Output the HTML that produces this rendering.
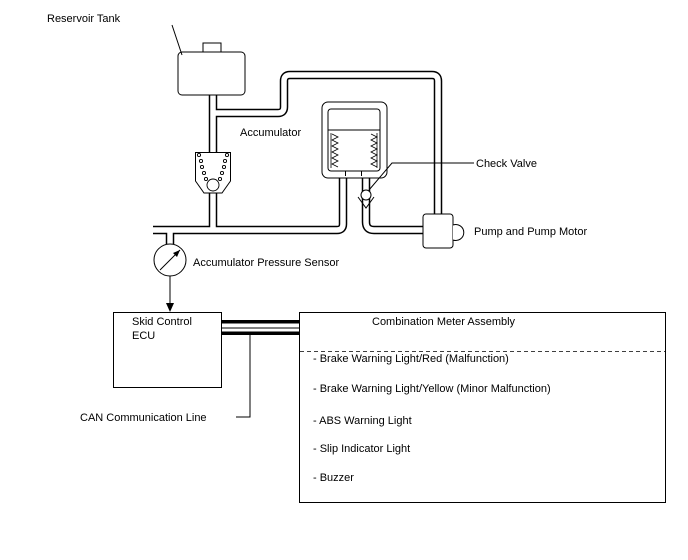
<!DOCTYPE html>
<html><head><style>body{margin:0;background:#fff}svg{display:block}text{font-family:"Liberation Sans",sans-serif;font-size:11px;fill:#000}</style></head>
<body>
<svg width="688" height="560" viewBox="0 0 688 560" xmlns="http://www.w3.org/2000/svg">
<g fill="none" stroke-linejoin="round">
<g stroke="#000" stroke-width="8.5">
<path d="M213 95 V230"/>
<path d="M213 113 H278 Q284 113 284 107 V81 Q284 75 290 75 H432 Q438 75 438 81 V216"/>
<path d="M153 230 H337 Q343 230 343 224 V172"/>
<path d="M170 230 V244"/>
<path d="M366 172 V222 Q366 230 374 230 H424"/>
</g>
<g stroke="#fff" stroke-width="5.5">
<path d="M213 95 V230"/>
<path d="M213 113 H278 Q284 113 284 107 V81 Q284 75 290 75 H432 Q438 75 438 81 V217"/>
<path d="M150 230 H337 Q343 230 343 224 V170"/>
<path d="M170 229 V244"/>
<path d="M366 170 V222 Q366 230 374 230 H425"/>
</g>
</g>
<rect x="203" y="43" width="18" height="10" fill="#fff" stroke="#000"/>
<rect x="178" y="52" width="67" height="43" rx="4" fill="#fff" stroke="#000"/>
<path d="M195.5 152.5 H230.5 V181 L222 193 H204 L195.5 181 Z" fill="#fff" stroke="#000"/>
<g fill="#fff" stroke="#000" stroke-width="0.9">
<circle cx="213" cy="185" r="6"/>
<circle cx="199" cy="155" r="1.6"/><circle cx="201" cy="161" r="1.6"/><circle cx="202" cy="167" r="1.6"/><circle cx="204" cy="173" r="1.6"/><circle cx="206" cy="179" r="1.6"/>
<circle cx="227" cy="155" r="1.6"/><circle cx="225" cy="161" r="1.6"/><circle cx="224" cy="167" r="1.6"/><circle cx="222" cy="173" r="1.6"/><circle cx="220" cy="179" r="1.6"/>
</g>
<rect x="322" y="102" width="65" height="76" rx="6" fill="#fff" stroke="#000"/>
<rect x="328" y="109" width="52" height="62" rx="3" fill="#fff" stroke="#000"/>
<line x1="328" y1="130" x2="380" y2="130" stroke="#000"/>
<rect x="345.5" y="170" width="16" height="4" fill="#fff" stroke="none"/>
<path d="M345.5 171 V176 M361.5 171 V176 M345.5 171 H361.5" stroke="#000" fill="none"/>
<path d="M332 134 l6 3 -6 3 6 3 -6 3 6 3 -6 3 6 3 -6 3 6 3 -6 3 6 3 M371 134 l6 3 -6 3 6 3 -6 3 6 3 -6 3 6 3 -6 3 6 3 -6 3 6 3" stroke="#000" stroke-width="0.8" fill="none"/>
<line x1="331" y1="133" x2="331" y2="168" stroke="#000" stroke-width="0.8"/>
<line x1="377" y1="133" x2="377" y2="168" stroke="#000" stroke-width="0.8"/>
<circle cx="366" cy="195" r="5" fill="#fff" stroke="#000"/>
<path d="M358 197 L366 208 L374 197" fill="none" stroke="#000"/>
<path d="M474 163 H392 L369 190" fill="none" stroke="#000"/>
<rect x="423" y="214" width="30" height="34" rx="3" fill="#fff" stroke="#000"/>
<path d="M453 225 A8 8 0 1 1 453 240" fill="#fff" stroke="#000"/>
<circle cx="170" cy="260" r="16" fill="#fff" stroke="#000"/>
<path d="M160 270 L180 250" stroke="#000"/><path d="M180 250 L173 253 L177 257 Z" fill="#000"/>
<line x1="170" y1="276" x2="170" y2="305" stroke="#000"/>
<path d="M166 303 L174 303 L170 312 Z" fill="#000"/>
<path d="M172 25 L182 55" stroke="#000"/>
<rect x="113.5" y="312.5" width="108" height="75" fill="#fff" stroke="#000"/>
<rect x="299.5" y="312.5" width="366" height="190" fill="#fff" stroke="#000"/>
<line x1="300" y1="351.5" x2="665" y2="351.5" stroke="#000" stroke-dasharray="4,3" stroke-width="0.8"/>
<rect x="222" y="320" width="77" height="3.5" fill="#000"/>
<rect x="222" y="327.5" width="77" height="1" fill="#000"/>
<rect x="222" y="331.5" width="77" height="3.5" fill="#000"/>
<path d="M250 334 V417 H236" fill="none" stroke="#000"/>
<text x="47" y="22">Reservoir Tank</text>
<text x="240" y="136">Accumulator</text>
<text x="476" y="167">Check Valve</text>
<text x="474" y="235">Pump and Pump Motor</text>
<text x="193" y="266">Accumulator Pressure Sensor</text>
<text x="132" y="325">Skid Control</text>
<text x="132" y="339">ECU</text>
<text x="80" y="421">CAN Communication Line</text>
<text x="372" y="325">Combination Meter Assembly</text>
<text x="313" y="362">- Brake Warning Light/Red (Malfunction)</text>
<text x="313" y="392">- Brake Warning Light/Yellow (Minor Malfunction)</text>
<text x="313" y="424">- ABS Warning Light</text>
<text x="313" y="452">- Slip Indicator Light</text>
<text x="313" y="481">- Buzzer</text>
</svg>
</body></html>
